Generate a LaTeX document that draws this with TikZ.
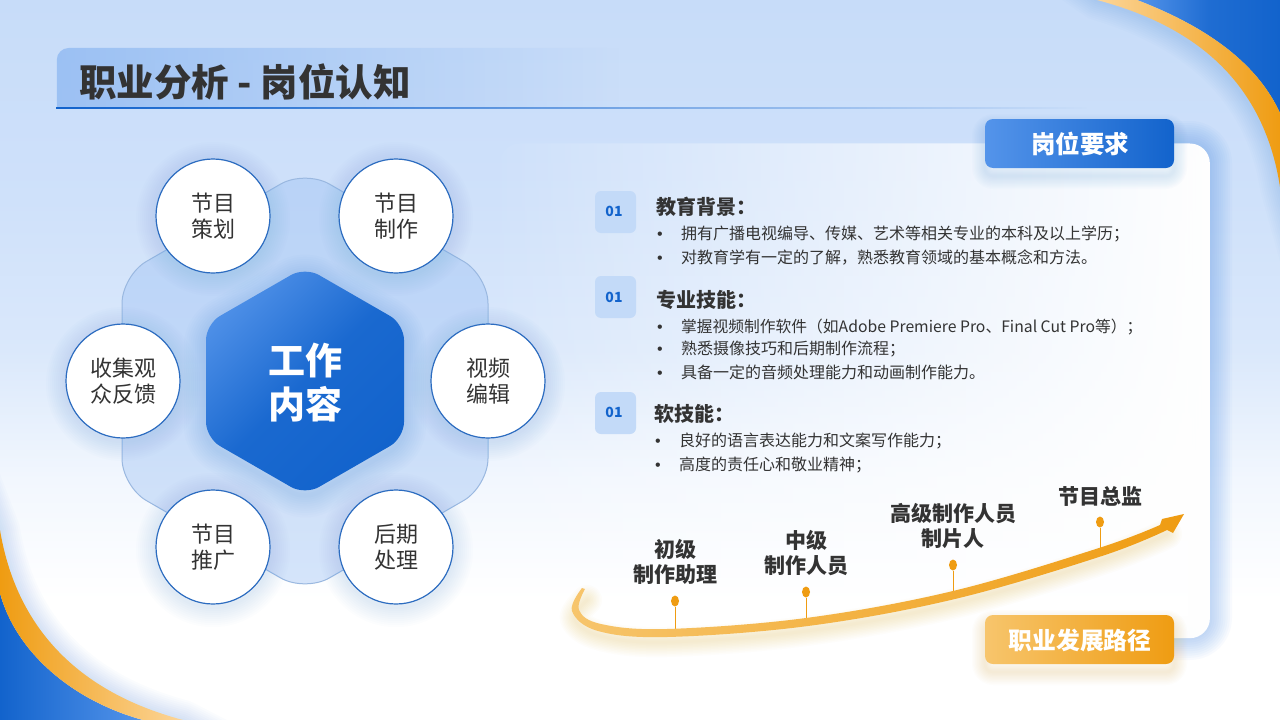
\documentclass[tikz,border=0pt]{standalone}
\usepackage{fontspec}
\setmainfont{Noto Sans CJK SC}
\newfontfamily\bulletfont{Liberation Sans}
\newfontfamily\heavyfont{Noto Sans CJK SC Black}
\usetikzlibrary{fadings,calc,shapes.geometric}
\definecolor{bgA}{HTML}{C7DCF9}
\definecolor{bgB}{HTML}{CFE1FA}
\definecolor{bgC}{HTML}{DAE8FB}
\definecolor{bgD}{HTML}{F2F7FE}
\definecolor{blueD}{HTML}{1263CC}
\definecolor{blueL}{HTML}{5494EA}
\definecolor{blueM}{HTML}{2C6CC0}
\definecolor{hexline}{HTML}{9AB8E0}
\definecolor{orgD}{HTML}{EF9C12}
\definecolor{orgL}{HTML}{F7C56C}
\definecolor{orgP}{HTML}{FCD598}
\definecolor{ink}{HTML}{333333}
\definecolor{badge}{HTML}{C3DAF8}
\pgfdeclareverticalshading{bgsh}{100bp}{color(0bp)=(white);color(25bp)=(white);color(33.3bp)=(white);color(41.7bp)=(bgD);color(50.7bp)=(bgC);color(61.1bp)=(bgB);color(75bp)=(bgA);color(100bp)=(bgA)}
\tikzfading[name=fadeL,left color=transparent!0,right color=transparent!100]
\tikzfading[name=fadeCard,left color=transparent!97,middle color=transparent!12,right color=transparent!0]
\newcommand\softglow[4]{\foreach \w in {1,...,10}{\draw[opacity=#2,line width={\w*#3/10},line join=round,fill=none,#1] #4;}}
\tikzset{
 x=1pt,y=-1pt,
 bubble/.style={circle,draw=blueM,line width=1.2pt,fill=white,minimum size=114pt,inner sep=0pt,align=center,text=ink,font=\fontsize{22}{25.5}\selectfont},
 badgebox/.style={rounded corners=6pt,fill=badge},
 badgetxt/.style={text=blueD,font=\fontsize{14}{16}\selectfont\bfseries,inner sep=0pt},
 head/.style={anchor=base west,inner sep=0pt,text=ink,font=\fontsize{20}{24}\selectfont\bfseries},
 item/.style={anchor=base west,inner sep=0pt,text=ink,font=\fontsize{16}{18}\selectfont},
 dotmark/.style={anchor=base west,inner sep=0pt,text=ink,font=\bulletfont\fontsize{16}{18}\selectfont},
 stage/.style={align=center,inner sep=0pt,text=ink,font=\fontsize{21}{25.5}\selectfont\bfseries},
 pin/.style={draw=orgD,line width=.8pt},
 pindot/.style={ellipse,fill=orgD,minimum width=8pt,minimum height=11pt,inner sep=0pt},
 btntxt/.style={text=white,inner sep=0pt,font=\fontsize{24.5}{28}\selectfont\bfseries},
}
\begin{document}
\begin{tikzpicture}
\useasboundingbox (0,0) rectangle (1280,720);
\shade[shading=bgsh] (0,0) rectangle (1280,720);
% corner swooshes
\begin{scope}
\clip (0,0) rectangle (1280,720);
\softglow{blueL}{.022}{40}{(1040,-40) -- (1097,0) .. controls (1180,25) and (1262,75) .. (1280,187) -- (1320,330)}
\softglow{blueL}{.022}{40}{(-50,400) -- (0,530) .. controls (15,620) and (70,690) .. (183,720) -- (300,780)}
\shade[left color=blueL,right color=blueD,middle color=blueD!80!blueL] (1137,0) .. controls (1210,28) and (1258,65) .. (1280,113) -- (1280,0) -- cycle;
\shade[left color=orgP,right color=orgD] (1097,0) .. controls (1180,22) and (1262,70) .. (1280,187) -- (1280,113) .. controls (1258,65) and (1210,28) .. (1137,0) -- cycle;
\shade[left color=blueD,right color=blueL] (0,593) .. controls (15,650) and (70,700) .. (143,720) -- (0,720) -- cycle;
\shade[left color=orgD,right color=orgP] (0,530) .. controls (15,620) and (70,690) .. (183,720) -- (143,720) .. controls (70,700) and (15,650) .. (0,593) -- cycle;
\end{scope}
% title band
\fill[blueL!80!white,opacity=.55,path fading=fadeL] (57,108) [rounded corners=12pt] -- (57,48) [sharp corners] -- (620,48) -- (620,108) -- cycle;
\fill[blueD,path fading=fadeL] (57,107) rectangle (1090,109);
\node[anchor=base west,inner sep=0pt,text=ink,font=\heavyfont\fontsize{37.5}{42}\selectfont] (title) at (79,96) {职业分析 - 岗位认知};
% card
\softglow{blueL}{.04}{44}{[rounded corners=20pt] (1120,143) -- (1210,143) -- (1210,638) -- (1120,638)}
\fill[white,path fading=fadeCard,rounded corners=20pt] (500,143) rectangle (1210,638);
% big hexagon
\draw[draw=hexline,line width=1pt,fill=blueL!40!bgB,fill opacity=.42,rounded corners=28pt] (305,170) -- (488,275.5) -- (488,486.5) -- (305,592) -- (122,486.5) -- (122,275.5) -- cycle;
% central hexagon
\softglow{blueL}{.022}{44}{[rounded corners=16pt,shift={(0,5)}] (305,267) -- (404,324) -- (404,438) -- (305,495) -- (206,438) -- (206,324) -- cycle}
\shade[top color=blueL!90!blueD,bottom color=blueD,middle color=blueD!88!blueL,shading angle=45,rounded corners=16pt] (305,267) -- (404,324) -- (404,438) -- (305,495) -- (206,438) -- (206,324) -- cycle;
\node[align=center,inner sep=0pt,text=white,font=\fontsize{37}{44}\selectfont\bfseries] (core) at (305,383) {工作\\内容};
% bubbles
\foreach \px/\py in {213/216,396/216,488/381,396/547,213/547,123/381}{
 \foreach \w in {1,...,10}{\fill[blueL,opacity=.016] (\px,\py+3) circle ({57+\w*2});}
}
\node[bubble] (b1) at (213,216) {节目\\策划};
\node[bubble] (b2) at (396,216) {节目\\制作};
\node[bubble] (b3) at (488,381) {视频\\编辑};
\node[bubble] (b4) at (396,547) {后期\\处理};
\node[bubble] (b5) at (213,547) {节目\\推广};
\node[bubble] (b6) at (123,381) {收集观\\众反馈};
% requirement list
\fill[badgebox] (595,191) rectangle (636,233);
\node[badgetxt] (n1) at (614,211) {01};
\node[head] (h1) at (656,214.5) {教育背景：};
\node[dotmark] (d1) at (657,239) {•};
\node[item] (t1) at (681,239) {拥有广播电视编导、传媒、艺术等相关专业的本科及以上学历；};
\node[dotmark] (d2) at (657,263) {•};
\node[item] (t2) at (681,263) {对教育学有一定的了解，熟悉教育领域的基本概念和方法。};
\fill[badgebox] (595,276) rectangle (636,318);
\node[badgetxt] (n2) at (614,297) {01};
\node[head] (h2) at (656,307.5) {专业技能：};
\node[dotmark] (d3) at (657,332) {•};
\node[item,font=\fontsize{15.75}{18}\selectfont] (t3) at (681,332) {掌握视频制作软件（如Adobe Premiere Pro、Final Cut Pro等）；};
\node[dotmark] (d4) at (657,354) {•};
\node[item] (t4) at (681,354) {熟悉摄像技巧和后期制作流程；};
\node[dotmark] (d5) at (657,378) {•};
\node[item] (t5) at (681,378) {具备一定的音频处理能力和动画制作能力。};
\fill[badgebox] (595,392) rectangle (636,434);
\node[badgetxt] (n3) at (614,412) {01};
\node[head] (h3) at (654,421.5) {软技能：};
\node[dotmark] (d6) at (655,446) {•};
\node[item] (t6) at (679,446) {良好的语言表达能力和文案写作能力；};
\node[dotmark] (d7) at (655,470) {•};
\node[item] (t7) at (679,470) {高度的责任心和敬业精神；};
% career path
\softglow{orgD,line cap=round}{.018}{30}{plot[smooth,tension=.6] coordinates {(587,600)(575,619)(601,636)(667,642)(806,631)(953,604)(1099,561)(1167,534)}}
\coordinate (f1) at (675,633);
\coordinate (f2) at (806,622);
\coordinate (f3) at (953,595);
\coordinate (f4) at (1100,552);
\node[pindot] (p1) at (675,601) {};
\node[pindot] (p2) at (806,592) {};
\node[pindot] (p3) at (953,565) {};
\node[pindot] (p4) at (1100,522) {};
\draw[pin] (p1) -- (f1);
\draw[pin] (p2) -- (f2);
\draw[pin] (p3) -- (f3);
\draw[pin] (p4) -- (f4);
\shade[left color=orgL,right color=orgD] plot[smooth,tension=.6] coordinates {(585,589)(579,610)(601,624)(667,629)(806,618)(953,591)(1099,548)(1160,525)} -- (1162,519) -- (1184,514) -- (1173,533) -- (1167,530) -- plot[smooth,tension=.6] coordinates {(1167,530)(1102,556)(955,599)(808,626)(667,637)(598,631)(572,611)(582,588)} -- cycle;
\node[stage] (s1) at (675,562) {初级\\制作助理};
\node[stage] (s2) at (806,553) {中级\\制作人员};
\node[stage] (s3) at (953,526) {高级制作人员\\制片人};
\node[stage] (s4) at (1100,496) {节目总监};
% buttons
\softglow{blueL}{.02}{26}{[rounded corners=8pt,shift={(0,8)}] (985,119) rectangle (1174,168)}
\shade[left color=blueL,right color=blueD,rounded corners=8pt] (985,119) rectangle (1174,168);
\node[btntxt] (r1) at (1080,144) {岗位要求};
\softglow{orgD}{.015}{26}{[rounded corners=8pt,shift={(0,8)}] (985,615) rectangle (1174,664)}
\shade[left color=orgL,right color=orgD,rounded corners=8pt] (985,615) rectangle (1174,664);
\node[btntxt,font=\fontsize{23.8}{28}\selectfont\bfseries] (r2) at (1080,640) {职业发展路径};
\end{tikzpicture}
\end{document}
